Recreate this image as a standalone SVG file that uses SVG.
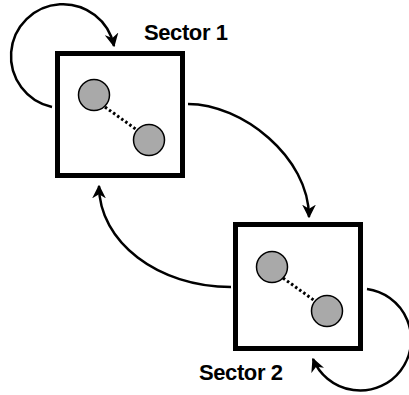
<svg xmlns="http://www.w3.org/2000/svg" width="409" height="395" viewBox="0 0 409 395">
<defs>
<marker id="ah" viewBox="0 0 10 10" refX="9" refY="5" markerWidth="5.5" markerHeight="5.5" orient="auto" markerUnits="strokeWidth">
<path d="M0,0 L10,5 L0,10 L3,5 Z" fill="#000"/>
</marker>
</defs>
<style>
.box{fill:#fff;stroke:#000;stroke-width:5}
.dot{fill:#a9a9a9;stroke:#000;stroke-width:1.5}
.link{stroke:#000;stroke-width:3;stroke-dasharray:2.5 2.5;fill:none}
.conn{fill:none;stroke:#000;stroke-width:2.5;marker-end:url(#ah)}
.lbl{font-family:"Liberation Sans",Arial,sans-serif;font-weight:bold;font-size:22px;letter-spacing:-0.4px;fill:#000}
</style>
<rect width="409" height="395" fill="#fff"/>
<g id="connectors">
<path class="conn" d="M52,107 A52,52 0 1,1 114,46"/>
<path class="conn" d="M188,104 C242,104 309,157 309,217"/>
<path class="conn" d="M231,287 C158,287 99,242 99,186"/>
<path class="conn" d="M367,289 A51,51 0 1,1 313,359"/>
</g>
<g id="sector1">
<rect class="box" x="57.5" y="53.5" width="125" height="122"/>
<line class="link" x1="105" y1="107" x2="137" y2="130"/>
<circle class="dot" cx="94" cy="95" r="15.5"/>
<circle class="dot" cx="149" cy="140" r="15.5"/>
<text class="lbl" x="144" y="40">Sector 1</text>
</g>
<g id="sector2">
<rect class="box" x="235.5" y="224.5" width="125" height="124"/>
<line class="link" x1="283" y1="278" x2="315" y2="301"/>
<circle class="dot" cx="272" cy="267" r="15.5"/>
<circle class="dot" cx="327" cy="311" r="15.5"/>
<text class="lbl" x="199" y="380">Sector 2</text>
</g>
</svg>
